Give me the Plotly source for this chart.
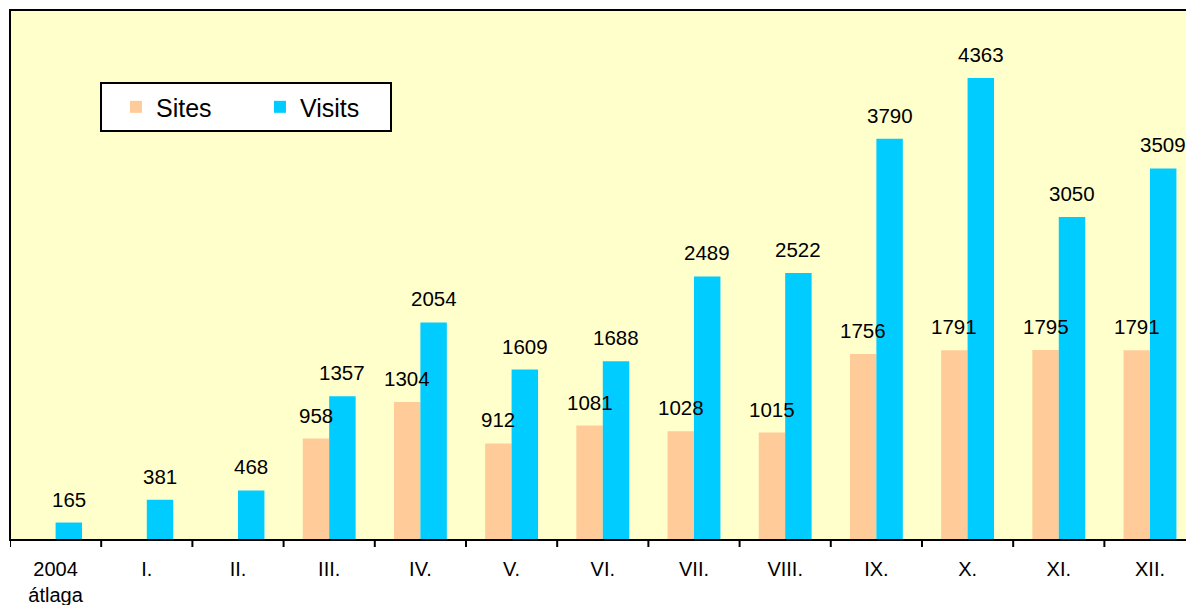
import plotly.graph_objects as go

categories = ["2004<br>átlaga", "I.", "II.", "III.", "IV.", "V.", "VI.", "VII.", "VIII.", "IX.", "X.", "XI.", "XII."]
sites = [None, None, None, 958, 1304, 912, 1081, 1028, 1015, 1756, 1791, 1795, 1791]
visits = [165, 381, 468, 1357, 2054, 1609, 1688, 2489, 2522, 3790, 4363, 3050, 3509]

FONT = "Liberation Sans, Arial, sans-serif"
BAR_W = 0.29

fig = go.Figure()
fig.add_trace(go.Bar(name="Sites", x=list(range(len(categories))), y=sites,
                     marker=dict(color="#FFCC99", line=dict(width=0)),
                     width=BAR_W, offset=-BAR_W))
fig.add_trace(go.Bar(name="Visits", x=list(range(len(categories))), y=visits,
                     marker=dict(color="#00CCFF", line=dict(width=0)),
                     width=BAR_W, offset=0))

annotations = []
for i, v in enumerate(sites):
    if v is not None:
        annotations.append(dict(x=i - BAR_W / 2, y=v, text=str(v), showarrow=False,
                                yanchor="bottom", xanchor="center", yshift=10,
                                font=dict(family=FONT, size=20.5, color="black")))
for i, v in enumerate(visits):
    annotations.append(dict(x=i + BAR_W / 2, y=v, text=str(v), showarrow=False,
                            yanchor="bottom", xanchor="center", yshift=10,
                            font=dict(family=FONT, size=20.5, color="black")))

fig.update_layout(
    width=1186, height=605,
    margin=dict(l=10, r=0, t=10, b=65),
    paper_bgcolor="white",
    plot_bgcolor="#FFFFCC",
    barmode="overlay",
    font=dict(family=FONT, size=20, color="black"),
    showlegend=True,
    legend=dict(orientation="h", x=0.0765, y=0.864, xanchor="left", yanchor="top",
                bgcolor="white", bordercolor="black", borderwidth=2,
                font=dict(family=FONT, size=25, color="black"),
                entrywidth=85, entrywidthmode="pixels", indentation=14),
    annotations=annotations,
    shapes=[dict(type="rect", xref="paper", yref="paper", x0=0, x1=1.05, y0=0, y1=1,
                 line=dict(color="black", width=2), fillcolor="rgba(0,0,0,0)", layer="above")],
    xaxis=dict(tickmode="array", tickvals=list(range(len(categories))), ticktext=categories,
               range=[-0.5, 12.395], showgrid=False, zeroline=False,
               ticks="", showline=False, automargin=False,
               tickfont=dict(family=FONT, size=20, color="black"), ticklabelstandoff=15),
    yaxis=dict(range=[0, 5005], showticklabels=False, showgrid=False, zeroline=False,
               ticks="", showline=False, automargin=False),
)

# category boundary tick marks
for b in range(len(categories)):
    fig.add_shape(type="line", xref="x", yref="paper", x0=b - 0.5, x1=b - 0.5,
                  y0=0, y1=-7 / 530, line=dict(color="black", width=2))

fig.write_html("out.html", config={"displayModeBar": False},
               post_script="document.body.style.margin='0';document.body.style.overflow='hidden';")
